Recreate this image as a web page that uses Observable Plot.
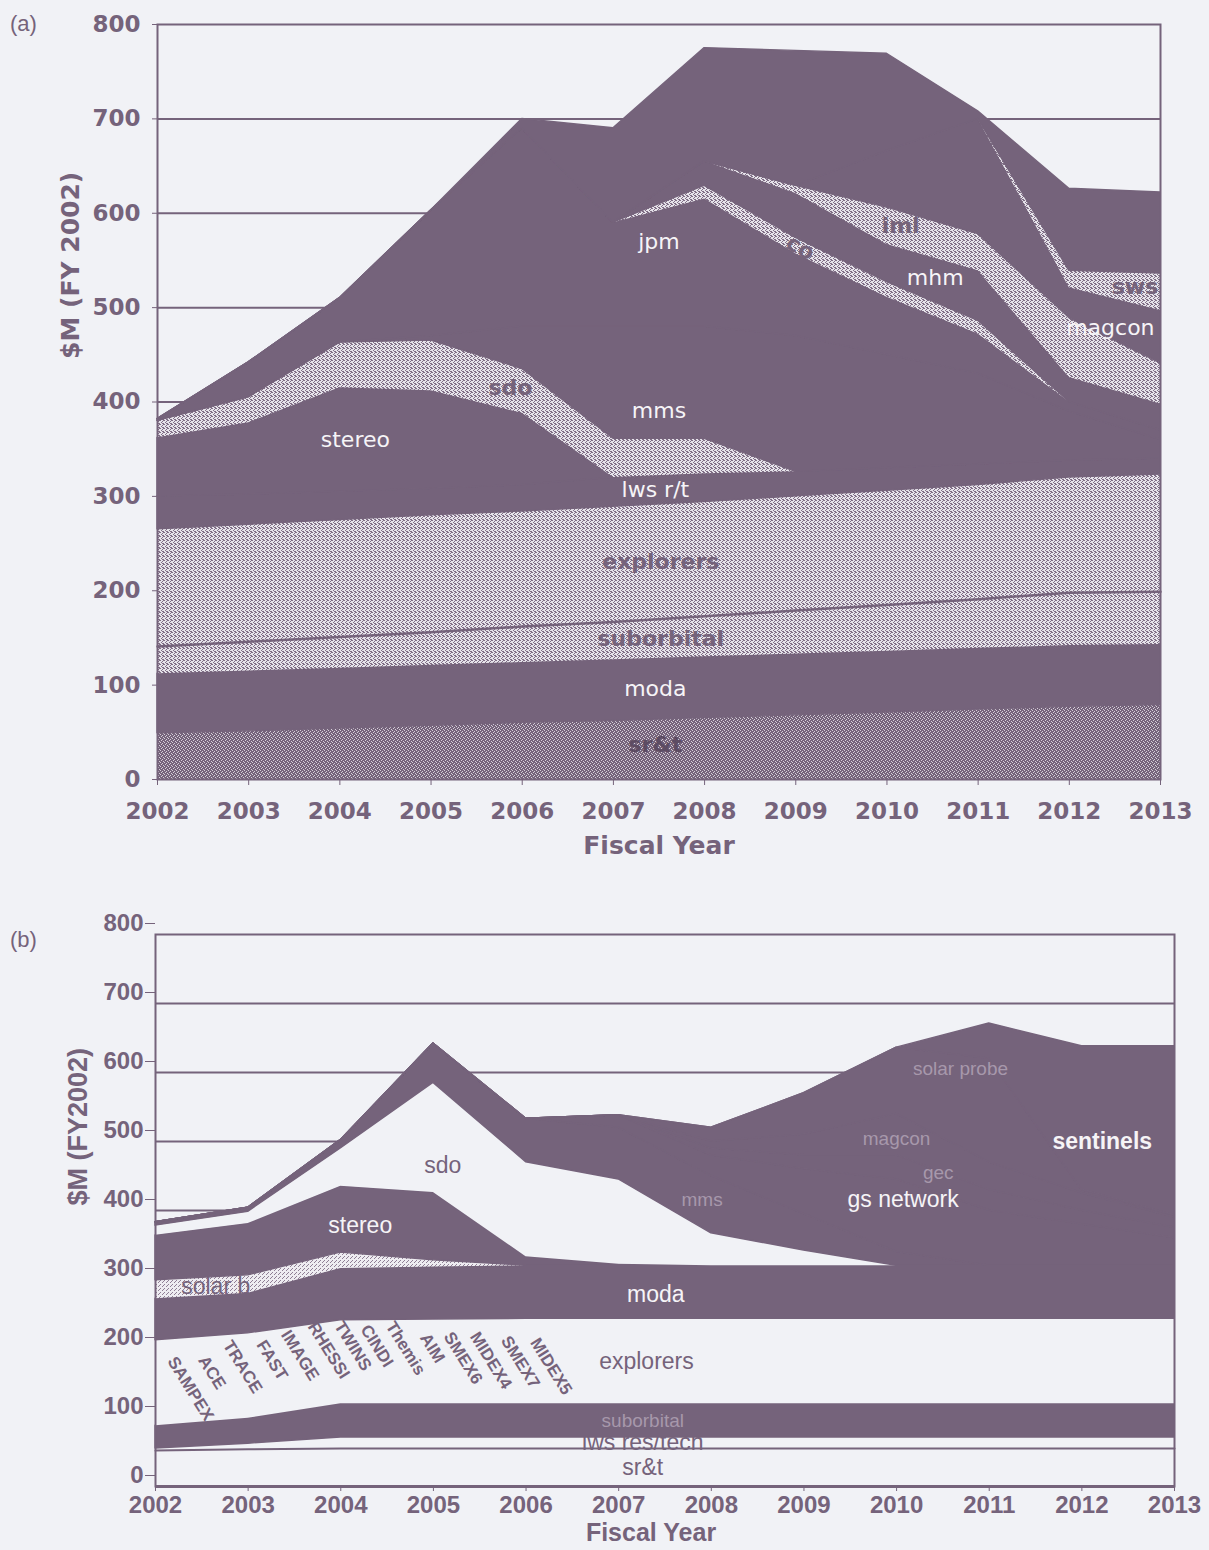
<!DOCTYPE html>
<html>
<head>
<meta charset="utf-8">
<script src="https://cdn.jsdelivr.net/npm/d3@7"></script>
<script src="https://cdn.jsdelivr.net/npm/@observablehq/plot@0.6"></script>
<style>
  html, body { margin: 0; padding: 0; background: #f1f2f6; }
  body { position: relative; width: 1209px; height: 1550px; overflow: hidden; }
  .panel { position: absolute; left: 0; }
  #panelA { top: 0; }
  #panelB { top: 880px; }
  .tag { position: absolute; left: 10px; font: 22px "Liberation Sans", sans-serif; color: #75637b; }
</style>
</head>
<body>
<div id="panelA" class="panel"></div>
<div id="panelB" class="panel"></div>
<div class="tag" style="top:11px">(a)</div>
<div class="tag" style="top:927px">(b)</div>
<script>
// ---------------- DATA ----------------
const years = [2002, 2003, 2004, 2005, 2006, 2007, 2008, 2009, 2010, 2011, 2012, 2013];
const yTicks = [0, 100, 200, 300, 400, 500, 600, 700, 800];

// Panel (a): $M (FY 2002), stacked bottom to top
const aSrt        = [49, 51, 54, 57, 60, 62, 65, 68, 71, 74, 77, 79];
const aModa       = [63, 64, 64, 64, 64, 65, 65, 65, 65, 65, 65, 64];
const aSuborbital = [29, 31, 33, 35, 38, 40, 43, 46, 49, 52, 56, 56];
const aExplorers  = [124, 124, 124, 124, 122, 122, 121, 121, 121, 121, 122, 124];
const aLwsRT      = [35, 32, 30, 28, 28, 31, 30, 26, 24, 22, 18, 17];
const aStereo     = [62, 76, 110, 104, 76, 0, 0, 0, 0, 0, 0, 0];
const aSdo        = [18, 27, 48, 53, 47, 41, 37, 0, 0, 0, 0, 0];
const aMms        = [0, 0, 0, 5, 45, 119, 119, 144, 120, 96, 52, 20];
const aJpm        = [2, 37, 47, 133, 210, 110, 135, 87, 61, 42, 10, 10];
const aCo         = [0, 0, 0, 0, 0, 0, 14, 17, 16, 14, 0, 0];
const aMhm        = [0, 0, 0, 0, 0, 0, 26, 47, 40, 53, 26, 28];
const aIml        = [0, 0, 0, 0, 0, 0, 0, 8, 39, 39, 63, 43];
const aMagcon     = [0, 0, 0, 0, 0, 0, 0, 0, 60, 122, 32, 56];
const aSws        = [0, 0, 0, 0, 0, 0, 0, 0, 0, 0, 18, 39];
const aOther      = [0, 0, 0, 0, 10, 100, 120, 143, 103, 8, 87, 86];

// Panel (b): $M (FY2002), stacked bottom to top
const bSrt        = [52, 54, 55, 55, 55, 55, 55, 55, 55, 55, 55, 55];
const bLwsResTech = [3, 8, 16, 16, 16, 16, 16, 16, 16, 16, 16, 16];
const bSuborbital = [33, 37, 49, 49, 49, 49, 49, 49, 49, 49, 49, 49];
const bExplorers  = [124, 123, 121, 122, 123, 123, 123, 123, 123, 123, 123, 123];
const bModa       = [60, 58, 75, 76, 77, 77, 77, 77, 77, 77, 77, 77];
const bSolarB     = [27, 26, 23, 10, 0, 0, 0, 0, 0, 0, 0, 0];
const bStereo     = [65, 75, 96, 98, 13, 2, 0, 0, 0, 0, 0, 0];
const bSdo        = [14, 17, 55, 159, 137, 123, 47, 22, 0, 0, 0, 0];
const bMms        = [5, 6, 12, 57, 63, 75, 83, 53, 20, 0, 0, 0];
const bGsNetwork  = [0, 0, 0, 0, 0, 18, 30, 65, 105, 80, 60, 40];
const bGec        = [0, 0, 0, 0, 0, 0, 10, 20, 35, 30, 20, 15];
const bMagcon     = [0, 0, 0, 0, 0, 0, 10, 30, 60, 40, 25, 15];
const bSolarProbe = [0, 0, 0, 0, 0, 0, 20, 60, 96, 150, 5, 3];
const bSentinels  = [0, 0, 0, 0, 0, 0, 0, 0, 0, 51, 208, 245];

const missions = ["SAMPEX", "ACE", "TRACE", "FAST", "IMAGE", "RHESSI", "TWINS", "CINDI", "Themis", "AIM", "SMEX6", "MIDEX4", "SMEX7", "MIDEX5"];

// ---------------- BUILD ----------------
const DARK = "#75637b";
const BG = "#f1f2f6";

function stackRows(layers) {
  const cum = years.map(() => 0);
  const rows = [];
  for (const [name, values] of layers) {
    years.forEach((yr, i) => {
      rows.push({name, year: yr, y1: cum[i], y2: cum[i] + values[i]});
      cum[i] += values[i];
    });
  }
  return rows;
}

const layersA = [
  ["sr&t", aSrt], ["moda", aModa], ["suborbital", aSuborbital], ["explorers", aExplorers],
  ["lws r/t", aLwsRT], ["stereo", aStereo], ["sdo", aSdo], ["mms", aMms], ["jpm", aJpm],
  ["co", aCo], ["mhm", aMhm], ["iml", aIml], ["magcon", aMagcon], ["sws", aSws], ["other", aOther]
];
const layersB = [
  ["sr&t", bSrt], ["lws res/tech", bLwsResTech], ["suborbital", bSuborbital], ["explorers", bExplorers],
  ["moda", bModa], ["solar b", bSolarB], ["stereo", bStereo], ["sdo", bSdo], ["mms", bMms],
  ["gs network", bGsNetwork], ["gec", bGec], ["magcon", bMagcon], ["solar probe", bSolarProbe], ["sentinels", bSentinels]
];
const rowsA = stackRows(layersA);
const rowsB = stackRows(layersB);

function bandAt(rows, name, x, t) {
  const r = rows.filter(d => d.name === name);
  const i = Math.min(Math.floor(x - years[0]), years.length - 2);
  const f = x - years[i];
  const lo = r[i].y1 + (r[i + 1].y1 - r[i].y1) * f;
  const hi = r[i].y2 + (r[i + 1].y2 - r[i].y2) * f;
  return lo + (hi - lo) * t;
}

// label placement: series, anchor year, fraction within band
const labelsA = [
  {series: "sr&t", at: 2007.46, t: 0.57, kind: "faint"},
  {series: "moda", at: 2007.46, t: 0.5, kind: "white"},
  {series: "suborbital", at: 2007.52, t: 0.5, kind: "bold"},
  {series: "explorers", at: 2007.52, t: 0.5, kind: "bold"},
  {series: "lws r/t", at: 2007.46, t: 0.5, kind: "white"},
  {series: "stereo", at: 2004.17, t: 0.5, kind: "white"},
  {series: "sdo", at: 2005.87, t: 0.5, kind: "bold"},
  {series: "mms", at: 2007.5, t: 0.25, kind: "white"},
  {series: "jpm", at: 2007.5, t: 0.73, kind: "white"},
  {series: "co", at: 2009.05, t: 0.5, kind: "bold", rot: 30},
  {series: "iml", at: 2010.15, t: 0.62, kind: "bold"},
  {series: "mhm", at: 2010.53, t: 0.55, kind: "white"},
  {series: "magcon", at: 2012.45, t: 0.25, kind: "white"},
  {series: "sws", at: 2012.72, t: 0.55, kind: "bold"}
];
const labelsB = [
  {series: "sr&t", at: 2007.26, t: 0.5, kind: "dark"},
  {series: "lws res/tech", at: 2007.26, t: 0.5, kind: "dark"},
  {series: "suborbital", at: 2007.26, t: 0.5, kind: "faint"},
  {series: "explorers", at: 2007.3, t: 0.5, kind: "dark"},
  {series: "moda", at: 2007.4, t: 0.45, kind: "white"},
  {series: "solar b", at: 2002.65, t: 0.5, kind: "dark"},
  {series: "stereo", at: 2004.21, t: 0.43, kind: "white"},
  {series: "sdo", at: 2005.1, t: 0.31, kind: "dark"},
  {series: "mms", at: 2007.9, t: 0.5, kind: "faint"},
  {series: "gs network", at: 2010.07, t: 0.75, kind: "white"},
  {series: "gec", at: 2010.45, t: 0.9, kind: "faint"},
  {series: "magcon", at: 2010.0, t: 0.4, kind: "faint"},
  {series: "solar probe", at: 2010.69, t: 0.85, kind: "faint"},
  {series: "sentinels", at: 2012.22, t: 0.36, kind: "whiteBold"}
];
const missionAt = [2002.38, 2002.61, 2002.94, 2003.26, 2003.56, 2003.87, 2004.13, 2004.39, 2004.70, 2004.99, 2005.32, 2005.62, 2005.94, 2006.27];
const missionT  = [0.40, 0.57, 0.61, 0.64, 0.65, 0.66, 0.69, 0.69, 0.66, 0.66, 0.54, 0.51, 0.49, 0.44];

const textA = labelsA.map(l => ({x: l.at, y: bandAt(rowsA, l.series, l.at, l.t), text: l.series, kind: l.kind, rot: l.rot || 0}));
const textB = labelsB.map(l => ({x: l.at, y: bandAt(rowsB, l.series, l.at, l.t), text: l.series, kind: l.kind, rot: 0}));
const missionRows = missions.map((m, i) => ({x: missionAt[i], y: bandAt(rowsB, "explorers", missionAt[i], missionT[i]), text: m}));

// patterns (stipple textures)
function patternDefs(specs) {
  return () => {
    const ns = "http://www.w3.org/2000/svg";
    const defs = document.createElementNS(ns, "defs");
    for (const p of specs) {
      const pat = document.createElementNS(ns, "pattern");
      pat.setAttribute("id", p.id);
      pat.setAttribute("width", p.size);
      pat.setAttribute("height", p.size);
      pat.setAttribute("patternUnits", "userSpaceOnUse");
      const base = document.createElementNS(ns, "rect");
      base.setAttribute("width", p.size); base.setAttribute("height", p.size); base.setAttribute("fill", p.base);
      pat.appendChild(base);
      for (const [cx, cy] of p.cells) {
        const r = document.createElementNS(ns, "rect");
        r.setAttribute("x", cx); r.setAttribute("y", cy);
        r.setAttribute("width", 1); r.setAttribute("height", 1); r.setAttribute("fill", p.dot);
        pat.appendChild(r);
      }
      defs.appendChild(pat);
    }
    return defs;
  };
}

const fillA = {
  "sr&t": "url(#aDarkStip)", "moda": DARK, "suborbital": "url(#aLightStip)", "explorers": "url(#aLightStip)",
  "lws r/t": DARK, "stereo": DARK, "sdo": "url(#aLightStip)", "mms": DARK, "jpm": DARK,
  "co": "url(#aLightStip)", "mhm": DARK, "iml": "url(#aLightStip)", "magcon": DARK, "sws": "url(#aLightStip)", "other": DARK
};
const fillB = {
  "sr&t": BG, "lws res/tech": BG, "suborbital": DARK, "explorers": BG, "moda": DARK, "solar b": "url(#bLightStip)",
  "stereo": DARK, "sdo": BG, "mms": DARK, "gs network": DARK, "gec": DARK, "magcon": DARK, "solar probe": DARK, "sentinels": DARK
};

function areaMarks(rows, layers, fills) {
  return layers.map(([name]) => {
    const f = fills[name];
    const opts = {x: "year", y1: "y1", y2: "y2", fill: f, curve: "linear"};
    if (f === DARK) { opts.stroke = DARK; opts.strokeWidth = 1.4; }
    return Plot.areaY(rows.filter(d => d.name === name), opts);
  });
}

// ---------------- PANEL A ----------------
const fontA = "DejaVu Sans, sans-serif";
const kindA = {
  white: {fill: "#f6f4f7", fontWeight: "normal"},
  bold: {fill: DARK, fontWeight: "bold"},
  faint: {fill: "#5d4c63", fontWeight: "bold"}
};
const plotA = Plot.plot({
  width: 1209, height: 880,
  marginLeft: 157, marginRight: 49, marginTop: 24, marginBottom: 101,
  x: {domain: [2002, 2013], label: null},
  y: {domain: [0, 800], label: null},
  style: {background: "transparent", color: DARK, fontFamily: fontA},
  marks: [
    patternDefs([
      {id: "aLightStip", size: 4, base: "#e6e3ea", dot: "#7f6d85", cells: [[0, 0], [2, 1], [1, 2], [3, 3], [2, 3], [3, 0]]},
      {id: "aDarkStip", size: 4, base: DARK, dot: "#d5cfd8", cells: [[1, 0], [3, 1], [0, 2], [2, 3]]}
    ]),
    Plot.ruleY(yTicks.filter(v => v > 0 && v < 800), {stroke: DARK, strokeWidth: 2}),
    ...areaMarks(rowsA, layersA, fillA),
    Plot.lineY(rowsA.filter(d => d.name === "suborbital"), {x: "year", y: "y2", stroke: DARK, strokeWidth: 2.5}),
    ...Object.keys(kindA).map(k => Plot.text(textA.filter(d => d.kind === k), {
      x: "x", y: "y", text: "text", rotate: "rot", fontSize: 22, fontFamily: fontA, ...kindA[k]
    })),
    Plot.frame({stroke: DARK, strokeWidth: 2}),
    Plot.axisY({ticks: yTicks, tickFormat: "d", tickSize: 5, tickPadding: 12, fontSize: 23, fontWeight: "bold", fontFamily: fontA, label: null}),
    Plot.axisX({ticks: years, tickFormat: "d", tickSize: 6, tickPadding: 17, fontSize: 23, fontWeight: "bold", fontFamily: fontA, label: null}),
    Plot.text(["Fiscal Year"], {text: d => d, frameAnchor: "bottom", dy: 74, fontSize: 25, fontWeight: "bold", fontFamily: fontA, fill: DARK}),
    Plot.text(["$M (FY 2002)"], {text: d => d, frameAnchor: "left", dx: -87, dy: -43, rotate: -90, fontSize: 25, fontWeight: "bold", fontFamily: fontA, fill: DARK})
  ]
});
document.getElementById("panelA").appendChild(plotA);

// ---------------- PANEL B ----------------
const fontB = "Liberation Sans, Arial, sans-serif";
const kindB = {
  dark: {fill: DARK, fontWeight: "normal", fontSize: 23},
  white: {fill: "#f6f4f7", fontWeight: "normal", fontSize: 23},
  whiteBold: {fill: "#f6f4f7", fontWeight: "bold", fontSize: 23},
  faint: {fill: "#a798ab", fontWeight: "normal", fontSize: 19}
};
const plotB = Plot.plot({
  width: 1209, height: 670,
  marginLeft: 155, marginRight: 35, marginTop: 54, marginBottom: 64,
  x: {domain: [2002, 2013], label: null},
  y: {domain: [0, 800], label: null},
  style: {background: "transparent", color: DARK, fontFamily: fontB},
  marks: [
    patternDefs([
      {id: "bLightStip", size: 4, base: "#eeecf1", dot: "#8f7f95", cells: [[0, 0], [2, 2], [3, 1]]}
    ]),
    Plot.ruleY(yTicks.filter(v => v > 0 && v < 800), {stroke: DARK, strokeWidth: 2}),
    ...areaMarks(rowsB, layersB, fillB),
    Plot.lineY(rowsB.filter(d => d.name === "sr&t"), {x: "year", y: "y2", stroke: DARK, strokeWidth: 2}),
    ...Object.keys(kindB).map(k => Plot.text(textB.filter(d => d.kind === k), {
      x: "x", y: "y", text: "text", fontFamily: fontB, ...kindB[k]
    })),
    Plot.text(missionRows, {x: "x", y: "y", text: "text", rotate: 58, fill: DARK, fontWeight: "bold", fontSize: 17, fontFamily: fontB}),
    Plot.frame({stroke: DARK, strokeWidth: 2}),
    Plot.ruleY([0], {stroke: DARK, strokeWidth: 3}),
    Plot.axisY({ticks: yTicks, tickFormat: "d", tickSize: 10, tickPadding: 2, dy: -11, fontSize: 24, fontWeight: "bold", fontFamily: fontB, label: null}),
    Plot.axisX({ticks: years, tickFormat: "d", tickSize: 5, tickPadding: 4, fontSize: 24, fontWeight: "bold", fontFamily: fontB, label: null}),
    Plot.text(["Fiscal Year"], {text: d => d, frameAnchor: "bottom", dy: 54, dx: -14, fontSize: 25, fontWeight: "bold", fontFamily: fontB, fill: DARK}),
    Plot.text(["$M (FY2002)"], {text: d => d, frameAnchor: "left", dx: -77, dy: -5, rotate: -90, fontSize: 27, fontWeight: "bold", fontFamily: fontB, fill: DARK})
  ]
});
document.getElementById("panelB").appendChild(plotB);
</script>
</body>
</html>
